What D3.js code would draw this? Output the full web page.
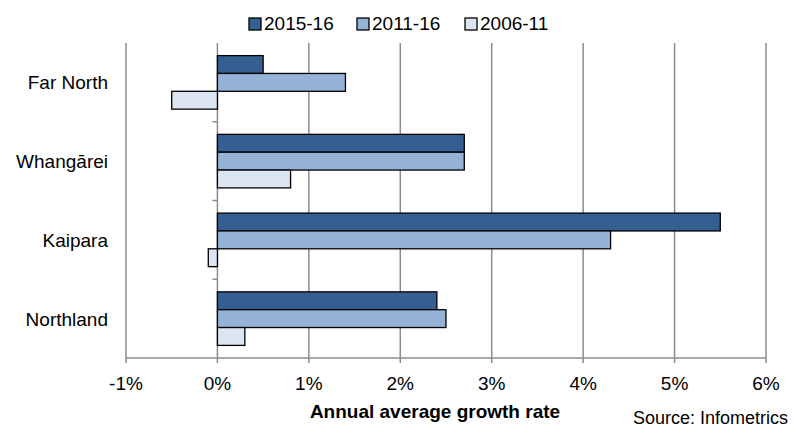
<!DOCTYPE html>
<html>
<head>
<meta charset="utf-8">
<script src="https://cdn.jsdelivr.net/npm/d3@7/dist/d3.min.js"></script>
<style>
	body { margin: 0; background: #fff; }
	svg text { font-family: "Liberation Sans", Arial, sans-serif; fill: #000; }
</style>
</head>
<body>
<svg id="chart" width="795" height="428"></svg>
<script>
"use strict";

var regions = ["Far North", "Whangārei", "Kaipara", "Northland"];
var series = ["2015-16", "2011-16", "2006-11"];
var colours = ["#365f91", "#95b3d7", "#dce6f2"];

// growth rates in %, one array per series, same order as regions
var growth_1516 = [0.5, 2.7, 5.5, 2.4];
var growth_1116 = [1.4, 2.7, 4.3, 2.5];
var growth_0611 = [-0.5, 0.8, -0.1, 0.3];

var x_ticks = [-1, 0, 1, 2, 3, 4, 5, 6];

var values = [growth_1516, growth_1116, growth_0611];
var rows = [];
regions.forEach(function(r, i) {
	series.forEach(function(s, j) {
		rows.push({ region: r, series: s, idx: j, value: values[j][i] });
	});
});

var svg = d3.select("#chart");
var plot_left = 126, plot_right = 766, plot_top = 43, plot_bottom = 358;

var x = d3.scaleLinear().domain([-1, 6]).range([plot_left, plot_right]);
var y = d3.scaleBand().domain(regions).range([plot_top, plot_bottom])
	.paddingInner(0.32).paddingOuter(0.16);
var y_sub = d3.scaleBand().domain(series).range([0, y.bandwidth()]);

// vertical grid lines
svg.append("g").selectAll("line")
	.data(x_ticks)
	.enter().append("line")
		.attr("x1", function(d) { return x(d); })
		.attr("x2", function(d) { return x(d); })
		.attr("y1", plot_top)
		.attr("y2", plot_bottom + 5)
		.attr("stroke", "#8c8c8c")
		.attr("stroke-width", 1.5);

// bottom axis line
svg.append("line")
	.attr("x1", plot_left).attr("x2", plot_right)
	.attr("y1", plot_bottom).attr("y2", plot_bottom)
	.attr("stroke", "#8c8c8c").attr("stroke-width", 1.5);

// category ticks on the zero line
var cat_edges = regions.slice(1).map(function(r) { return y(r) - y.step() * y.paddingInner() / 2; });
svg.append("g").selectAll("line")
	.data(cat_edges)
	.enter().append("line")
		.attr("x1", x(0) - 5).attr("x2", x(0))
		.attr("y1", function(d) { return d; })
		.attr("y2", function(d) { return d; })
		.attr("stroke", "#8c8c8c").attr("stroke-width", 1.5);

// bars
svg.append("g").selectAll("rect")
	.data(rows)
	.enter().append("rect")
		.attr("x", function(d) { return x(Math.min(0, d.value)); })
		.attr("y", function(d) { return y(d.region) + y_sub(d.series); })
		.attr("width", function(d) { return Math.abs(x(d.value) - x(0)); })
		.attr("height", y_sub.bandwidth())
		.attr("fill", function(d) { return colours[d.idx]; })
		.attr("stroke", "#000")
		.attr("stroke-width", 1.3);

// x tick labels
svg.append("g").selectAll("text")
	.data(x_ticks)
	.enter().append("text")
		.attr("x", function(d) { return x(d); })
		.attr("y", 390)
		.attr("text-anchor", "middle")
		.style("font-size", "19px")
		.text(function(d) { return d + "%"; });

// category labels
svg.append("g").selectAll("text")
	.data(regions)
	.enter().append("text")
		.attr("x", 108)
		.attr("y", function(d) { return y(d) + y.bandwidth() / 2 + 7; })
		.attr("text-anchor", "end")
		.style("font-size", "19px")
		.text(function(d) { return d; });

svg.append("text")
	.attr("x", 435).attr("y", 418)
	.attr("text-anchor", "middle")
	.style("font-size", "19px")
	.style("font-weight", "bold")
	.text("Annual average growth rate");

svg.append("text")
	.attr("x", 788).attr("y", 424)
	.attr("text-anchor", "end")
	.style("font-size", "18px")
	.text("Source: Infometrics");

// legend
var legend_x = [249, 357, 465];
var legend = svg.append("g").selectAll("g")
	.data(series)
	.enter().append("g")
		.attr("transform", function(d, i) { return "translate(" + legend_x[i] + ",18)"; });
legend.append("rect")
	.attr("width", 12).attr("height", 12)
	.attr("fill", function(d, i) { return colours[i]; })
	.attr("stroke", "#000").attr("stroke-width", 1.3);
legend.append("text")
	.attr("x", 15).attr("y", 12)
	.style("font-size", "19px")
	.text(function(d) { return d; });
</script>
</body>
</html>
